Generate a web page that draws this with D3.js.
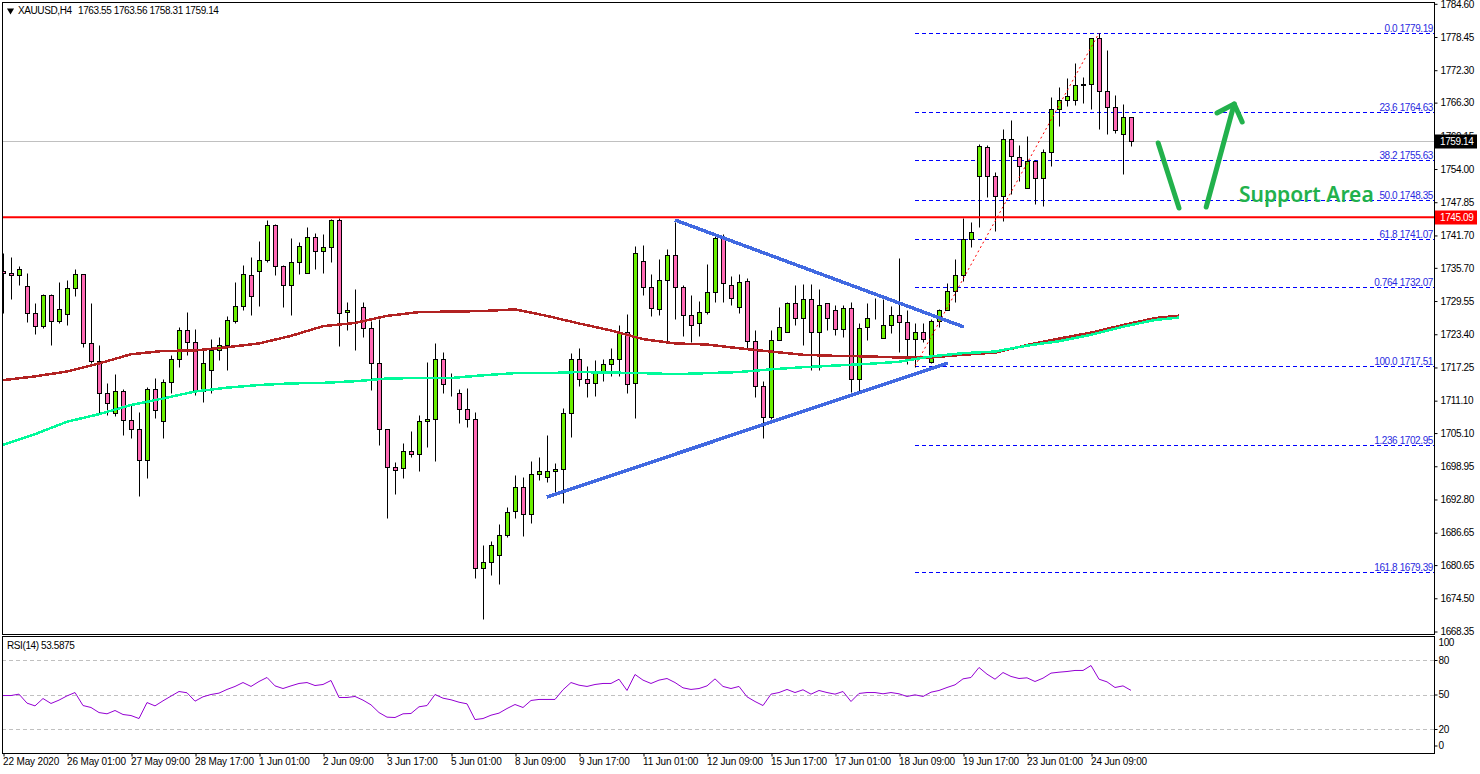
<!DOCTYPE html>
<html>
<head>
<meta charset="utf-8">
<script src="https://cdn.jsdelivr.net/npm/d3@7/dist/d3.min.js"></script>
<style>
html, body { margin: 0; padding: 0; background: #fff; overflow: hidden; }
text { font-family: "Liberation Sans", Arial, sans-serif; font-size: 10px; letter-spacing: -0.4px; fill: #000; }
</style>
</head>
<body>
<div id="chart"></div>
<script>
// XAUUSD H4 candles
var opens = [1735.1,1734.7,1734.3,1732.3,1727.3,1724.9,1730.6,1725.8,1727.1,1731.9,
1734.5,1721.7,1718.4,1712.5,1708.9,1712.8,1707.6,1705.8,1700.2,1713.2,
1707.3,1714.5,1718.8,1724.1,1721.9,1712.8,1716.7,1720.4,1721.5,1725.8,
1728.6,1734.3,1735.1,1737.1,1743.6,1736.0,1732.5,1736.7,1734.7,1741.5,
1738.9,1739.5,1744.5,1727.5,1728.5,1728.5,1724.5,1718.0,1705.8,1698.9,
1698.6,1701.7,1701.2,1707.3,1707.7,1718.9,1712.6,1712.6,1709.5,1707.7,
1680.1,1681.2,1682.6,1686.2,1690.6,1695.1,1690.2,1697.5,1696.9,1698.0,
1698.4,1708.8,1718.8,1715.2,1714.3,1716.4,1717.8,1718.8,1723.8,1714.3,
1736.9,1732.1,1728.0,1733.4,1738.0,1732.1,1726.9,1725.4,1727.6,1731.2,
1741.2,1732.6,1728.4,1733.2,1722.1,1713.9,1708.0,1722.3,1723.9,1729.1,
1726.4,1729.9,1723.9,1729.1,1727.8,1724.3,1728.2,1715.2,1724.7,1726.5,
1722.7,1725.2,1726.9,1725.6,1722.5,1723.9,1718.2,1725.8,1727.8,1731.4,
1734.3,1741.0,1752.8,1758.0,1752.7,1749.0,1759.5,1756.2,1750.4,1755.4,
1752.3,1757.1,1765.2,1766.7,1766.7,1769.5,1769.7,1778.2,1768.4,1765.4,
1760.4,1763.55];
var closes = [1734.7,1734.3,1735.4,1727.3,1724.9,1730.6,1725.8,1728.0,1731.9,1734.5,
1721.7,1718.4,1712.5,1710.6,1712.8,1707.6,1705.8,1700.2,1713.2,1709.3,
1714.5,1718.8,1724.1,1721.9,1712.8,1718.0,1720.4,1721.5,1726.0,1728.6,
1734.5,1730.4,1737.1,1743.6,1736.0,1732.5,1736.7,1739.7,1741.5,1738.9,
1739.5,1744.5,1727.3,1727.8,1728.4,1724.5,1718.0,1705.8,1698.9,1698.2,
1701.7,1701.2,1707.3,1707.7,1718.9,1714.1,1712.6,1709.5,1707.7,1680.1,
1681.2,1684.3,1686.2,1690.4,1695.1,1690.2,1697.5,1698.0,1698.0,1698.4,
1708.8,1718.8,1715.2,1714.3,1716.4,1717.8,1718.8,1723.6,1714.1,1738.4,
1732.1,1728.2,1733.4,1738.0,1732.1,1726.9,1725.2,1727.5,1731.2,1741.2,
1732.8,1730.2,1733.0,1722.1,1713.9,1708.0,1722.3,1724.7,1729.1,1726.4,
1729.9,1723.9,1728.9,1726.4,1724.3,1728.2,1715.2,1724.5,1726.4,1726.4,
1725.2,1726.9,1725.6,1722.5,1723.9,1722.5,1725.8,1727.8,1731.4,1734.3,
1741.0,1742.3,1758.2,1752.7,1749.0,1759.5,1756.4,1754.5,1755.4,1752.3,
1757.1,1765.2,1766.7,1767.5,1769.5,1769.7,1778.2,1768.4,1765.4,1761.2,
1763.6,1759.14];
var highs = [1738.4,1737.7,1736.0,1734.7,1729.1,1730.9,1730.8,1733.0,1733.4,1735.5,
1734.5,1729.1,1721.4,1714.4,1716.0,1713.2,1710.5,1709.0,1713.6,1715.3,
1715.2,1719.6,1724.7,1727.5,1724.3,1720.5,1722.6,1722.9,1726.7,1733.0,
1736.2,1737.7,1740.6,1744.5,1743.8,1736.2,1741.2,1740.4,1743.2,1742.1,
1741.9,1744.8,1744.9,1729.3,1731.7,1729.3,1725.9,1726.2,1705.8,1699.7,
1703.2,1705.5,1708.4,1718.3,1721.8,1720.1,1716.2,1713.2,1713.4,1709.0,
1684.3,1685.2,1688.2,1691.4,1697.3,1697.0,1699.9,1700.6,1704.7,1699.5,
1709.7,1719.9,1720.9,1717.5,1718.6,1718.9,1720.8,1725.2,1727.1,1739.7,
1739.9,1734.5,1737.3,1739.2,1744.2,1732.5,1730.6,1729.5,1736.4,1742.1,
1742.0,1734.1,1734.6,1733.9,1724.2,1714.7,1724.1,1728.4,1729.3,1732.6,
1732.7,1732.7,1731.7,1729.1,1728.8,1728.9,1729.3,1725.4,1729.1,1730.2,
1729.9,1728.6,1737.5,1727.9,1725.4,1725.4,1726.2,1728.0,1732.8,1737.3,
1744.9,1744.1,1758.6,1758.4,1753.4,1761.5,1763.0,1758.4,1760.2,1755.6,
1757.8,1767.3,1769.1,1770.8,1773.6,1771.0,1778.2,1779.2,1776.0,1767.7,
1766.0,1763.56];
var lows = [1727.3,1730.0,1732.6,1725.7,1723.4,1724.6,1721.5,1725.4,1725.2,1730.5,
1721.1,1718.1,1708.9,1708.5,1708.3,1704.8,1704.2,1693.5,1696.7,1707.9,
1704.2,1712.6,1717.4,1719.6,1712.2,1710.9,1712.6,1718.7,1716.8,1725.4,
1727.8,1727.0,1728.7,1736.7,1734.4,1728.5,1727.0,1734.6,1734.7,1735.4,
1734.8,1736.8,1721.3,1724.1,1720.4,1722.8,1713.0,1702.8,1689.3,1693.9,
1696.7,1700.7,1698.0,1702.6,1700.0,1712.5,1711.9,1706.9,1706.3,1678.3,
1670.7,1678.9,1677.2,1685.8,1689.3,1686.1,1688.5,1696.5,1696.0,1694.1,
1692.2,1704.4,1713.9,1711.7,1712.0,1714.8,1715.6,1715.7,1712.6,1707.8,
1730.6,1726.7,1726.9,1721.9,1726.2,1723.0,1722.0,1723.1,1727.2,1729.4,
1729.4,1728.9,1727.4,1720.8,1711.8,1704.1,1707.7,1722.3,1723.8,1725.2,
1721.4,1716.7,1716.7,1724.1,1723.3,1722.8,1712.7,1712.8,1722.3,1726.2,
1722.7,1723.7,1720.2,1717.8,1717.4,1721.9,1718.0,1724.7,1727.8,1729.3,
1733.2,1739.6,1743.2,1748.9,1742.6,1744.3,1749.3,1751.7,1750.4,1747.6,
1747.2,1754.6,1762.0,1765.6,1765.9,1766.3,1765.2,1761.5,1760.4,1760.6,
1753.0,1758.31];

// moving averages, sampled at these bars
var maBars = [0,4,8,12,16,20,24,28,32,36,40,44,48,52,56,60,64,68,72,76,80,84,88,92,96,100,104,108,112,116,120,124,128,132,136,140,144,147];
var maRed = [1714.9,1715.6,1716.5,1718.0,1719.7,1720.3,1720.4,1721.0,1721.7,1723.1,1724.9,1725.5,1726.8,1727.5,1727.6,1727.7,1728.0,1726.8,1725.4,1724.1,1722.5,1721.7,1721.5,1720.8,1720.2,1719.6,1719.4,1719.3,1719.1,1719.1,1719.6,1720.0,1721.4,1722.6,1723.7,1725.1,1726.4,1726.85];
var maGreen = [1702.9,1704.9,1707.2,1708.6,1710.3,1711.5,1712.8,1713.5,1714.0,1714.3,1714.4,1714.7,1715.2,1715.3,1715.3,1715.8,1716.2,1716.2,1716.4,1716.3,1716.2,1716.0,1716.2,1716.4,1716.9,1717.3,1717.6,1717.9,1718.3,1719.3,1719.9,1720.2,1721.3,1722.1,1723.3,1724.8,1726.05,1726.5];

// RSI(14), one value per bar
var rsi = [49.1,49.1,50.3,42.5,40.1,46.5,42.2,45.1,48.8,51.7,
40.4,38.7,34.3,33.2,36.1,32.6,31.7,29.1,43.0,40.1,
44.5,48.6,52.6,51.5,44.2,48.0,50.0,51.2,54.4,57.0,
60.4,57.0,61.3,64.8,57.5,55.2,57.5,59.6,60.4,57.8,
58.7,62.2,47.4,47.4,48.3,45.1,41.0,34.3,30.3,30.0,
33.2,33.5,39.3,40.4,50.0,46.8,45.4,43.3,41.9,28.2,
29.1,32.0,33.8,37.8,41.3,38.7,44.8,45.7,45.7,45.7,
54.1,60.4,58.1,57.0,58.7,59.6,59.6,63.3,53.5,67.4,
62.5,59.6,62.5,63.9,60.4,55.8,54.4,55.2,57.5,63.6,
57.0,55.2,57.0,48.0,43.9,40.4,50.3,51.7,54.4,51.7,
54.1,50.3,53.5,51.7,50.3,52.6,43.9,50.9,51.7,51.7,
50.6,51.7,50.6,48.3,49.7,48.3,52.0,53.5,56.1,58.4,
63.6,64.8,73.5,67.7,63.3,69.1,65.7,63.9,64.5,61.3,
64.2,68.6,69.4,70.0,70.9,70.9,75.2,63.3,61.0,56.1,
57.5,53.59];
var rsiLevels = [80, 50, 20];
var rsiTicks = [100, 80, 50, 20, 0];

// axis labels
var priceTicks = [1784.60,1778.45,1772.30,1766.30,1760.15,1754.00,1747.85,1741.70,1735.70,1729.55,1723.40,1717.25,1711.10,1705.10,1698.95,1692.80,1686.65,1680.65,1674.50,1668.35];
var timeBars = [0,8,16,24,32,40,48,56,64,72,80,88,96,104,112,120,128,136];
var timeLabels = ["22 May 2020","26 May 01:00","27 May 09:00","28 May 17:00","1 Jun 01:00","2 Jun 09:00","3 Jun 17:00","5 Jun 01:00","8 Jun 09:00","9 Jun 17:00","11 Jun 01:00","12 Jun 09:00","15 Jun 17:00","17 Jun 01:00","18 Jun 09:00","19 Jun 17:00","23 Jun 01:00","24 Jun 09:00"];

// fibonacci levels
var fibLabels = ["0.0","23.6","38.2","50.0","61.8","0.764","100.0","1.236","161.8"];
var fibPrices = [1779.19,1764.63,1755.63,1748.35,1741.07,1732.07,1717.51,1702.95,1679.39];
var fibStartBar = 114;
var fibTrendBars = [114, 137];
var fibTrendPrices = [1717.51, 1779.19];

// drawn annotations: [bar, price]
var fallingLine = [[84, 1744.56], [120.1, 1724.75]];
var risingLine = [[68, 1693.26], [118.1, 1718.08]];
var arrowDown = [[144.4, 1758.82], [147, 1746.78]];
var arrowUp = [[150.4, 1746.97], [153.9, 1766.04]];
var arrowHead = [[151.75, 1764.38], [153.9, 1766.04], [154.9, 1762.71]];
var supportPrice = 1745.09;
var bidPrice = 1759.14;
var supportTextBar = 154.5;
var supportTextPrice = 1747.9;

var width = 1480, height = 774;
var left = 2, right = 1434, top1 = 2, bottom1 = 634, top2 = 636, bottom2 = 753;

var svg = d3.select("#chart").append("svg")
  .attr("width", width).attr("height", height)
  .style("display", "block");

var x = d3.scaleLinear().domain([0, 141]).range([3, 1131]);
var y = d3.scaleLinear().domain([1668.35, 1784.60]).range([631.5, 3.8]);
var yRsi = d3.scaleLinear().domain([0, 100]).range([752, 637]);

function py(v) { return Math.round(y(v)) + 0.5; }
function px(i) { return Math.round(x(i)) + 0.5; }

svg.append("clipPath").attr("id", "clipMain").append("rect")
  .attr("x", left).attr("y", top1).attr("width", right - left).attr("height", bottom1 - top1);
svg.append("clipPath").attr("id", "clipRsi").append("rect")
  .attr("x", left).attr("y", top2).attr("width", right - left).attr("height", bottom2 - top2);

var main = svg.append("g").attr("clip-path", "url(#clipMain)");
var sub = svg.append("g").attr("clip-path", "url(#clipRsi)");

// bid line and fib levels go under the candles
main.append("line")
  .attr("x1", left).attr("x2", right).attr("y1", py(bidPrice)).attr("y2", py(bidPrice))
  .attr("stroke", "#c0c0c0");

main.selectAll(".fib").data(fibPrices).enter().append("line")
  .attr("x1", x(fibStartBar)).attr("x2", right)
  .attr("y1", function(d) { return py(d); })
  .attr("y2", function(d) { return py(d); })
  .attr("stroke", "#0000ff")
  .attr("stroke-dasharray", "4,3");

var bars = d3.range(opens.length);

// candles
main.selectAll(".wick").data(bars).enter().append("line")
  .attr("x1", function(i) { return px(i); })
  .attr("x2", function(i) { return px(i); })
  .attr("y1", function(i) { return py(highs[i]); })
  .attr("y2", function(i) { return py(lows[i]); })
  .attr("stroke", "#000");

main.selectAll(".body").data(bars).enter().append("rect")
  .attr("x", function(i) { return px(i) - 2; })
  .attr("width", 4)
  .attr("y", function(i) { return py(Math.max(opens[i], closes[i])); })
  .attr("height", function(i) { return py(Math.min(opens[i], closes[i])) - py(Math.max(opens[i], closes[i])); })
  .attr("fill", function(i) { return closes[i] >= opens[i] ? "#6aee00" : "#ff69b4"; })
  .attr("stroke", "#000")
  .attr("shape-rendering", "crispEdges");

// moving averages
var maLine = d3.line()
  .x(function(d, k) { return x(maBars[k]); })
  .y(function(d) { return y(d); });

main.append("path").attr("d", maLine(maRed))
  .attr("fill", "none").attr("stroke", "#b22222").attr("stroke-width", 2.5)
  .attr("shape-rendering", "crispEdges");
main.append("path").attr("d", maLine(maGreen))
  .attr("fill", "none").attr("stroke", "#00fa9a").attr("stroke-width", 2.5)
  .attr("shape-rendering", "crispEdges");

// support line
main.append("line")
  .attr("x1", left).attr("x2", right).attr("y1", y(supportPrice)).attr("y2", y(supportPrice))
  .attr("stroke", "#ff0000").attr("stroke-width", 2);

var pointLine = d3.line()
  .x(function(d) { return x(d[0]); })
  .y(function(d) { return y(d[1]); });

// fib trend
main.append("line")
  .attr("x1", x(fibTrendBars[0])).attr("x2", x(fibTrendBars[1]))
  .attr("y1", y(fibTrendPrices[0])).attr("y2", y(fibTrendPrices[1]))
  .attr("stroke", "#ff0000").attr("stroke-dasharray", "2,3");

// triangle
[fallingLine, risingLine].forEach(function(pts) {
  main.append("path").attr("d", pointLine(pts))
    .attr("fill", "none").attr("stroke", "#4169e1").attr("stroke-width", 3.5)
    .attr("shape-rendering", "crispEdges");
});

// green arrows
[arrowDown, arrowUp, arrowHead].forEach(function(pts) {
  main.append("path").attr("d", pointLine(pts))
    .attr("fill", "none").attr("stroke", "#22b14c").attr("stroke-width", 5)
    .attr("stroke-linecap", "round").attr("stroke-linejoin", "round");
});

main.append("text")
  .attr("x", x(supportTextBar)).attr("y", y(supportTextPrice))
  .style("font-family", "'Noto Sans', sans-serif")
  .style("font-size", "21px").style("font-weight", 600).style("letter-spacing", "0")
  .style("fill", "#22b14c")
  .text("Support Area");

// fib labels
main.selectAll(".fibLabel").data(fibPrices).enter().append("text")
  .attr("x", right - 1)
  .attr("y", function(d) { return py(d) - 2; })
  .attr("text-anchor", "end")
  .style("fill", "#2a2ae0")
  .text(function(d, k) { return fibLabels[k] + " " + d.toFixed(2); });

// RSI panel
sub.selectAll(".level").data(rsiLevels).enter().append("line")
  .attr("x1", left).attr("x2", right)
  .attr("y1", function(d) { return Math.round(yRsi(d)) + 0.5; })
  .attr("y2", function(d) { return Math.round(yRsi(d)) + 0.5; })
  .attr("stroke", "#c0c0c0").attr("stroke-dasharray", "4,3");

sub.append("path")
  .attr("d", d3.line().x(function(d, k) { return x(k); }).y(function(d) { return yRsi(d); })(rsi))
  .attr("fill", "none").attr("stroke", "#9400d3").attr("stroke-width", 1);

// frames
[[top1, bottom1], [top2, bottom2]].forEach(function(f) {
  svg.append("rect")
    .attr("x", left + 0.5).attr("y", f[0] + 0.5)
    .attr("width", right - left).attr("height", f[1] - f[0])
    .attr("fill", "none").attr("stroke", "#000");
});

// price axis
var axisPrice = d3.axisRight(y).tickValues(priceTicks).tickSize(3).tickPadding(3)
  .tickFormat(d3.format(".2f"));
svg.append("g").attr("transform", "translate(" + (right + 0.5) + ",0)").call(axisPrice)
  .call(function(g) { g.select(".domain").remove(); });

// RSI axis
var axisRsi = d3.axisRight(yRsi).tickValues(rsiTicks).tickSize(3).tickPadding(1);
var gRsi = svg.append("g").attr("transform", "translate(" + (right + 0.5) + ",0)").call(axisRsi);
gRsi.select(".domain").remove();
gRsi.selectAll(".tick").filter(function(d) { return d == 100; }).attr("transform", "translate(0,643)").select("line").remove();
gRsi.selectAll(".tick").filter(function(d) { return d == 0; }).attr("transform", "translate(0,746)");

// time axis
var axisTime = d3.axisBottom(x).tickValues(timeBars).tickSize(3).tickPadding(1)
  .tickFormat(function(d, k) { return timeLabels[k]; });
var gTime = svg.append("g").attr("transform", "translate(0.5," + (bottom2 + 0.5) + ")").call(axisTime);
gTime.select(".domain").remove();
gTime.selectAll("text").attr("text-anchor", "start").attr("dx", -1).style("letter-spacing", "-0.15px");

svg.selectAll("g.tick text").attr("font-size", null).attr("font-family", null);

// price tags on the axis
function tag(price, bg) {
  svg.append("rect")
    .attr("x", right + 1).attr("y", py(price) - 7).attr("width", 42).attr("height", 14)
    .attr("fill", bg);
  svg.append("text")
    .attr("x", right + 6).attr("y", py(price) + 3.5)
    .style("fill", "#fff")
    .text(price.toFixed(2));
}
tag(bidPrice, "#000");
tag(supportPrice, "#ff0000");

// header
svg.append("path").attr("d", d3.symbol().type(d3.symbolTriangle).size(22)())
  .attr("transform", "translate(10.5,10.5) rotate(180)").attr("fill", "#000");
svg.append("text").attr("x", 18).attr("y", 13.5).text("XAUUSD,H4");
svg.append("text").attr("x", 78).attr("y", 13.5)
  .text([opens[141], highs[141], lows[141], closes[141]].map(function(d) { return d.toFixed(2); }).join(" "));
svg.append("text").attr("x", 7).attr("y", 649).text("RSI(14) " + "53.5875");
</script>
</body>
</html>
